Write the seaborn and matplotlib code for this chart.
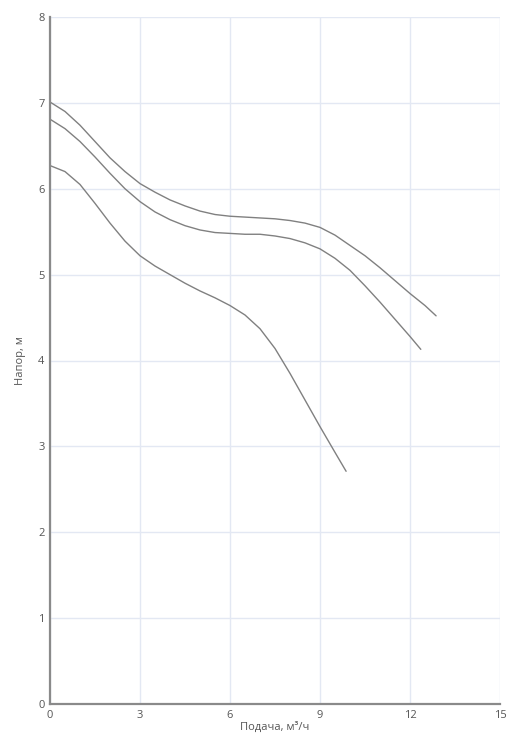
import pandas as pd
import matplotlib.pyplot as plt
import seaborn as sns

# flow, m3/h and head, m for the three pump curves
q_top = [0, 0.5, 1, 1.5, 2, 2.5, 3, 3.5, 4, 4.5, 5, 5.5, 6, 6.5, 7, 7.5, 8,
         8.5, 9, 9.5, 10, 10.5, 11, 11.5, 12, 12.5, 12.87]
h_top = [7.01, 6.9, 6.74, 6.55, 6.36, 6.2, 6.06, 5.96, 5.87, 5.8, 5.74, 5.7, 5.68,
         5.67, 5.66, 5.65, 5.63, 5.6, 5.55, 5.46, 5.34, 5.22, 5.08, 4.93, 4.78, 4.64, 4.52]

q_mid = [0, 0.5, 1, 1.5, 2, 2.5, 3, 3.5, 4, 4.5, 5, 5.5, 6, 6.5, 7, 7.5, 8,
         8.5, 9, 9.5, 10, 10.5, 11, 11.5, 12, 12.36]
h_mid = [6.81, 6.7, 6.55, 6.37, 6.18, 6.0, 5.85, 5.73, 5.64, 5.57, 5.52, 5.49, 5.48,
         5.47, 5.47, 5.45, 5.42, 5.37, 5.3, 5.19, 5.05, 4.87, 4.68, 4.48, 4.28, 4.13]

q_low = [0, 0.5, 1, 1.5, 2, 2.5, 3, 3.5, 4, 4.5, 5, 5.5, 6, 6.5, 7, 7.5, 8,
         8.5, 9, 9.5, 9.87]
h_low = [6.27, 6.2, 6.05, 5.83, 5.6, 5.39, 5.22, 5.1, 5.0, 4.9, 4.81, 4.73, 4.64,
         4.53, 4.37, 4.14, 3.85, 3.54, 3.23, 2.93, 2.71]

x_ticks = [0, 3, 6, 9, 12, 15]
y_ticks = [0, 1, 2, 3, 4, 5, 6, 7, 8]

df = pd.concat([
    pd.DataFrame({"q": q_top, "h": h_top, "curve": "top"}),
    pd.DataFrame({"q": q_mid, "h": h_mid, "curve": "mid"}),
    pd.DataFrame({"q": q_low, "h": h_low, "curve": "low"}),
])

sns.set_style("white")
plt.rcParams["font.family"] = ["Open Sans", "DejaVu Sans"]

fig = plt.figure(figsize=(5.11, 7.34), dpi=100)
ax = fig.add_axes([50 / 511, 1 - 704 / 734, 450 / 511, 687 / 734])

sns.lineplot(data=df, x="q", y="h", hue="curve", units="curve", estimator=None,
             sort=False, palette=["#808080"] * 3, linewidth=1.0, legend=False, ax=ax)

ax.set_xlim(0, 15)
ax.set_ylim(0, 8)
ax.set_xticks(x_ticks)
ax.set_yticks(y_ticks)
ax.grid(True, color="#e3e8f3", linewidth=1)
ax.set_axisbelow(True)

for s in ["top", "right"]:
    ax.spines[s].set_visible(False)
for s in ["left", "bottom"]:
    ax.spines[s].set_color("#8a8a8a")
    ax.spines[s].set_linewidth(1.6)

ax.tick_params(axis="both", colors="#8a8a8a", labelcolor="#555555",
               labelsize=8, length=3, width=1, pad=1)
ax.set_xlabel("Подача, м³/ч", fontsize=8, color="#555555", labelpad=1)
ax.set_ylabel("Напор, м", fontsize=8, color="#555555", labelpad=9)

fig.savefig("out.png", dpi=100)
